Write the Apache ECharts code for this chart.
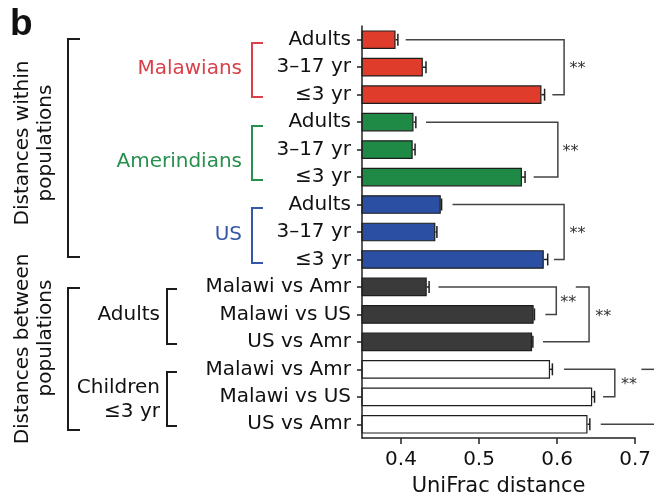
<!DOCTYPE html>
<html>
<head>
<meta charset="utf-8">
<script src="https://cdn.jsdelivr.net/npm/echarts@6/dist/echarts.min.js"></script>
<style>
html,body{margin:0;padding:0;background:#fff;}
#chart{width:654px;height:504px;}
</style>
</head>
<body>
<div id="chart"></div>
<script>
// ---- data ----
const categories = ['Adults', '3–17 yr', '≤3 yr', 'Adults', '3–17 yr', '≤3 yr', 'Adults', '3–17 yr', '≤3 yr',
  'Malawi vs Amr', 'Malawi vs US', 'US vs Amr', 'Malawi vs Amr', 'Malawi vs US', 'US vs Amr'];
const groups = ['Malawians', 'Malawians', 'Malawians', 'Amerindians', 'Amerindians', 'Amerindians', 'US', 'US', 'US',
  'Adults', 'Adults', 'Adults', 'Children', 'Children', 'Children'];
const values = [0.393, 0.428, 0.580, 0.416, 0.415, 0.555, 0.451, 0.444, 0.583,
  0.433, 0.570, 0.568, 0.591, 0.645, 0.639];
const errors = [0.003, 0.004, 0.004, 0.003, 0.003, 0.004, 0.001, 0.002, 0.005,
  0.003, 0.001, 0.001, 0.003, 0.003, 0.003];
const xTicks = [0.4, 0.5, 0.6, 0.7];
// significance brackets: [topStartX, topRow, verticalX, bottomRow, bottomStartX]
const brackets = [
  [0.406, 0, 0.609, 2, 0.594],
  [0.432, 3, 0.601, 5, 0.570],
  [0.466, 6, 0.609, 8, 0.596],
  [0.448, 9, 0.599, 10, 0.585],
  [0.624, 9, 0.641, 11, 0.582],
  [0.609, 12, 0.674, 13, 0.659]
];
// lines that continue beyond the figure edge: [startX, row, endX]
const openLines = [[0.708, 12, 0.74], [0.656, 14, 0.74]];
// "**" marks: [x, firstRow, lastRow] (placed midway between the rows)
const stars = [[0.616, 0, 2], [0.607, 3, 5], [0.616, 6, 8], [0.604, 9, 10], [0.649, 9, 11], [0.682, 12, 13]];

// ---- styles ----
const groupColors = {
  Malawians: '#e03c2c', Amerindians: '#1f8a45', US: '#2b50a3', Adults: '#3a3a3a', Children: '#ffffff'
};
const FONT = 'DejaVu Sans';
const TXT = '#111';

const chart = echarts.init(document.getElementById('chart'), null, {renderer: 'canvas'});

const barData = values.map((v, i) => ({
  value: v,
  itemStyle: {color: groupColors[groups[i]]}
}));

const bracketLines = [];
brackets.forEach(b => {
  bracketLines.push({coords: [[b[0], b[1]], [b[2], b[1]], [b[2], b[3]], [b[4], b[3]]]});
});
openLines.forEach(l => {
  bracketLines.push({coords: [[l[0], l[1]], [l[2], l[1]]]});
});

function bracketGfx(pts, color) {
  return {type: 'polyline', shape: {points: pts}, style: {stroke: color, lineWidth: 2, fill: null}, silent: true};
}
function txt(x, y, text, opts) {
  return {
    type: 'text', x: x, y: y,
    style: Object.assign({text: text, fontFamily: FONT, fontSize: 20, fill: TXT, align: 'right', verticalAlign: 'middle'}, opts || {})
  };
}
function rtxt(x, y, text) {
  return {type: 'text', x: x, y: y, rotation: Math.PI / 2,
    style: {text: text, fontFamily: FONT, fontSize: 20, fill: TXT, align: 'center', verticalAlign: 'middle'}};
}

const option = {
  backgroundColor: '#fff',
  animation: false,
  grid: {left: 362, right: 17, top: 26, bottom: 66, containLabel: false},
  xAxis: {
    type: 'value', min: 0.35, max: 0.7,
    name: 'UniFrac distance', nameLocation: 'middle', nameGap: 38,
    nameTextStyle: {fontFamily: FONT, fontSize: 21, color: TXT},
    axisLine: {show: true, lineStyle: {color: '#222', width: 1.5}},
    axisTick: {show: true, length: 6, lineStyle: {color: '#222', width: 1.5}, customValues: xTicks},
    axisLabel: {fontFamily: FONT, fontSize: 20, color: TXT, margin: 12, customValues: xTicks,
      formatter: v => v.toFixed(1)},
    splitLine: {show: false}
  },
  yAxis: {
    type: 'category', data: categories, inverse: true, z: 10,
    axisLine: {show: true, lineStyle: {color: '#222', width: 1.5}},
    axisTick: {show: true, alignWithLabel: true, length: 5, lineStyle: {color: '#222', width: 1.5}},
    axisLabel: {fontFamily: FONT, fontSize: 20, color: TXT, margin: 11, interval: 0}
  },
  series: [
    {
      type: 'bar', data: barData, barWidth: '68%',
      itemStyle: {borderColor: '#1e1e1e', borderWidth: 1.2},
      z: 2
    },
    {
      type: 'custom',
      data: values.map((v, i) => [v, i, errors[i]]),
      encode: {x: 0, y: 1},
      z: 3,
      renderItem: function (params, api) {
        const v = api.value(0), row = api.value(1), e = api.value(2);
        const p1 = api.coord([v, row]);
        const p2 = api.coord([v + e, row]);
        const h = 6;
        return {
          type: 'group',
          children: [
            {type: 'line', shape: {x1: p1[0], y1: p1[1], x2: p2[0], y2: p2[1]}, style: {stroke: '#1e1e1e', lineWidth: 1.5}},
            {type: 'line', shape: {x1: p2[0], y1: p2[1] - h, x2: p2[0], y2: p2[1] + h}, style: {stroke: '#1e1e1e', lineWidth: 1.5}}
          ]
        };
      }
    },
    {
      type: 'lines', coordinateSystem: 'cartesian2d', polyline: true, clip: false,
      lineStyle: {color: '#444', width: 1.5, opacity: 1},
      data: bracketLines, z: 4, silent: true
    },
    {
      type: 'custom', silent: true, clip: false,
      data: stars,
      encode: {x: 0, y: 1},
      z: 5,
      renderItem: function (params, api) {
        const x = api.value(0), r1 = api.value(1), r2 = api.value(2);
        const a = api.coord([x, r1]);
        const b = api.coord([x, r2]);
        return {
          type: 'text', x: a[0], y: (a[1] + b[1]) / 2 + 2,
          style: {text: '**', fontFamily: FONT, fontSize: 16, fill: '#333', align: 'left', verticalAlign: 'middle'}
        };
      }
    }
  ],
  graphic: [
    {type: 'text', x: 10, y: 6, style: {text: 'b', fontFamily: 'Liberation Sans', fontWeight: 'bold', fontSize: 37, fill: '#111'}},
    rtxt(23, 143, 'Distances within'),
    rtxt(46, 143, 'populations'),
    rtxt(23, 349, 'Distances between'),
    rtxt(46, 338, 'populations'),
    bracketGfx([[80, 39], [68, 39], [68, 257], [80, 257]], '#1b1b1b'),
    bracketGfx([[80, 288], [68, 288], [68, 430], [80, 430]], '#1b1b1b'),
    txt(242, 69, 'Malawians', {fill: '#d9404a'}),
    txt(242, 162, 'Amerindians', {fill: '#27904f'}),
    txt(242, 235, 'US', {fill: '#3557a8'}),
    bracketGfx([[263, 43], [252, 43], [252, 97], [263, 97]], '#d9404a'),
    bracketGfx([[263, 126], [252, 126], [252, 180], [263, 180]], '#27904f'),
    bracketGfx([[263, 208], [252, 208], [252, 263], [263, 263]], '#3557a8'),
    txt(160, 315, 'Adults'),
    txt(160, 388, 'Children'),
    txt(160, 412, '≤3 yr'),
    bracketGfx([[177, 289], [167, 289], [167, 344], [177, 344]], '#1b1b1b'),
    bracketGfx([[177, 372], [167, 372], [167, 426], [177, 426]], '#1b1b1b')
  ]
};
chart.setOption(option);
</script>
</body>
</html>
